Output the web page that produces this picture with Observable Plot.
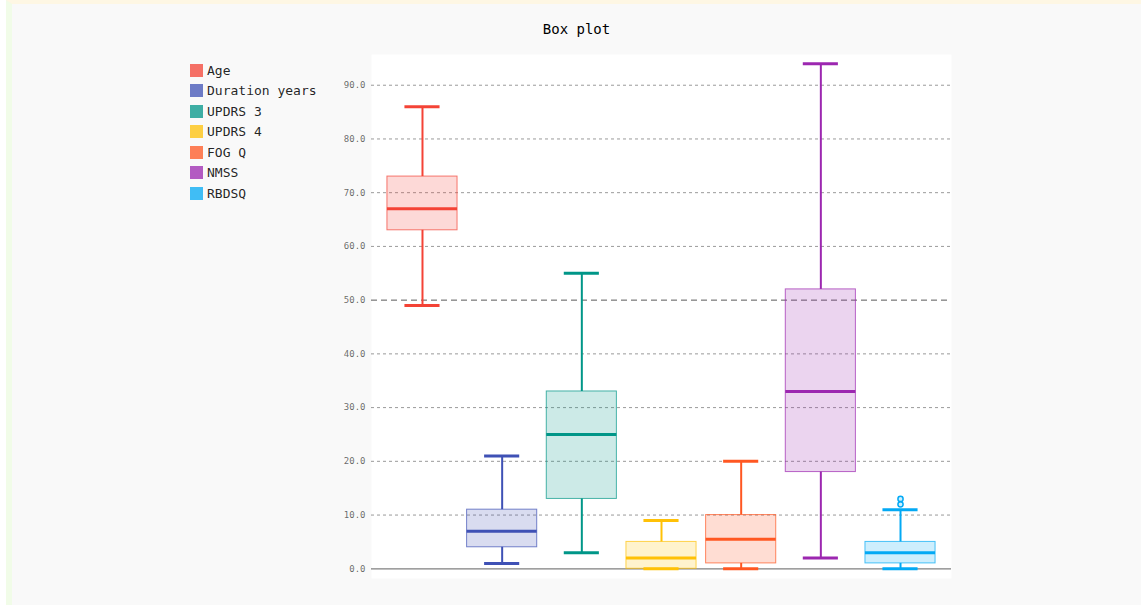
<!DOCTYPE html>
<html>
<head>
<meta charset="utf-8">
<script src="https://cdn.jsdelivr.net/npm/d3@7"></script>
<script src="https://cdn.jsdelivr.net/npm/@observablehq/plot@0.6"></script>
<style>
  html, body { margin: 0; padding: 0; background: #fff; }
  #wrap {
    position: absolute; left: 6px; top: 0; width: 1129px; height: 601px;
    border-top: 4px solid #fef7e4; border-left: 6px solid #f1fce8;
    background: rgb(249,249,249);
    font-family: "DejaVu Sans Mono", monospace;
  }
  #title { position: absolute; left: 0; width: 100%; top: 17px; text-align: center;
    font-size: 14px; color: #000; }
  #legend { position: absolute; left: 178px; top: 56px; }
  .item { display: flex; align-items: center; height: 20.5px; font-size: 13px; color: rgba(0,0,0,.87); }
  .sw { width: 11px; height: 11px; margin-right: 4px; border: 1px solid; }
  #chart { position: absolute; left: 0; top: 0; }
</style>
</head>
<body>
<div id="wrap">
  <div id="title">Box plot</div>
  <div id="legend"></div>
  <div id="chart"></div>
</div>
<script>
const categories = ["Age", "Duration years", "UPDRS 3", "UPDRS 4", "FOG Q", "NMSS", "RBDSQ"];
const colors = ["#F44336", "#3F51B5", "#009688", "#FFC107", "#FF5722", "#9C27B0", "#03A9F4"];
const whiskerLow = [49, 1, 3, 0, 0, 2, 0];
const q1 = [63, 4, 13, 0, 1, 18, 1];
const median = [67, 7, 25, 2, 5.5, 33, 3];
const q3 = [73, 11, 33, 5, 10, 52, 5];
const whiskerHigh = [86, 21, 55, 9, 20, 94, 11];
const outlierCategory = ["RBDSQ", "RBDSQ"];
const outlierValue = [12, 13];
const yTicks = [0, 10, 20, 30, 40, 50, 60, 70, 80, 90];
const majorTick = 50;

const rows = categories.map((c, i) => ({
  cat: c, lo: whiskerLow[i], q1: q1[i], med: median[i], q3: q3[i], hi: whiskerHigh[i]
}));
const outliers = outlierCategory.map((c, i) => ({cat: c, v: outlierValue[i]}));

// legend
const legend = document.getElementById("legend");
categories.forEach((c, i) => {
  const it = document.createElement("div");
  it.className = "item";
  const sw = document.createElement("span");
  sw.className = "sw";
  sw.style.background = colors[i];
  sw.style.opacity = 0.75;
  sw.style.borderColor = colors[i];
  it.appendChild(sw);
  it.appendChild(document.createTextNode(c));
  legend.appendChild(it);
});

const chart = Plot.plot({
  width: 1129,
  height: 596,
  marginLeft: 359,
  marginRight: 190,
  marginTop: 50,
  marginBottom: 22,
  style: { background: "transparent", fontFamily: "DejaVu Sans Mono, monospace" },
  x: { domain: categories, paddingInner: 0.12, paddingOuter: 0.2, round: false, axis: null },
  y: { domain: [-1.81, 95.72], axis: null },
  color: { domain: categories, range: colors },
  marks: [
    Plot.frame({ fill: "white", stroke: "none" }),
    Plot.ruleY(yTicks.filter(t => t !== 0 && t !== majorTick), {
      stroke: "#000", strokeOpacity: 0.4, strokeDasharray: "3,3", strokeWidth: 1
    }),
    Plot.ruleY([majorTick], {
      stroke: "#000", strokeOpacity: 0.65, strokeDasharray: "6,4", strokeWidth: 1
    }),
    Plot.ruleY([0], { stroke: "#000", strokeOpacity: 0.5, strokeWidth: 1.2 }),
    Plot.axisY({
      ticks: yTicks, tickSize: 0, tickPadding: 6,
      tickFormat: d => d.toFixed(1), fontSize: 9, fill: "rgba(0,0,0,0.6)"
    }),
    // whiskers
    Plot.ruleX(rows, { x: "cat", y1: "q3", y2: "hi", stroke: "cat", strokeWidth: 2 }),
    Plot.ruleX(rows, { x: "cat", y1: "lo", y2: "q1", stroke: "cat", strokeWidth: 2 }),
    // boxes
    Plot.barY(rows, {
      x: "cat", y1: "q1", y2: "q3", fill: "cat", fillOpacity: 0.2,
      stroke: "cat", strokeOpacity: 0.7, strokeWidth: 1
    }),
    // caps
    Plot.tickY(rows, { x: "cat", y: "hi", stroke: "cat", strokeWidth: 3, insetLeft: 17.5, insetRight: 17.5 }),
    Plot.tickY(rows, { x: "cat", y: "lo", stroke: "cat", strokeWidth: 3, insetLeft: 17.5, insetRight: 17.5 }),
    // median
    Plot.tickY(rows, { x: "cat", y: "med", stroke: "cat", strokeWidth: 3 }),
    // outliers
    Plot.dot(outliers, {
      x: "cat", y: "v", r: 2.6, stroke: "cat", strokeWidth: 1.5, fill: "cat", fillOpacity: 0.2
    })
  ]
});
document.getElementById("chart").appendChild(chart);
</script>
</body>
</html>
